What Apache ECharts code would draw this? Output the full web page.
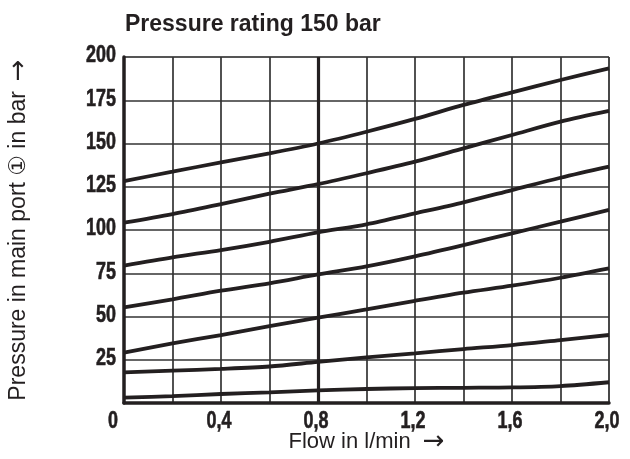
<!DOCTYPE html>
<html>
<head>
<meta charset="utf-8">
<script src="https://cdn.jsdelivr.net/npm/echarts@6/dist/echarts.min.js"></script>
<style>html,body{margin:0;padding:0;background:#fff}#c{width:630px;height:459px}</style>
</head>
<body>
<div id="c"></div>
<script>
const flow = [0, 0.2, 0.4, 0.6, 0.8, 1.0, 1.2, 1.4, 1.6, 1.8, 2.0];
const curve1 = [128.3, 133.7, 139.1, 144.3, 150, 156.8, 164.2, 172.3, 179.6, 186.7, 193.4];
const curve2 = [104.2, 109.2, 115, 121, 126.5, 132.8, 139.5, 147.2, 154.9, 162.6, 168.8];
const curve3 = [79.4, 84.2, 88.4, 93.2, 98.6, 103.3, 109.6, 116, 123.1, 130.2, 136.6];
const curve4 = [55.3, 59.9, 64.9, 69.2, 74.3, 79, 84.8, 91.3, 98.1, 104.8, 111.6];
const curve5 = [29.1, 34.5, 39.3, 44.5, 49.3, 54.1, 59.1, 63.8, 67.8, 72.4, 77.8];
const curve6 = [17.7, 18.7, 19.7, 21.1, 23.8, 26.4, 28.7, 31.2, 33.5, 36.4, 39.3];
const curve7 = [3.1, 4, 5.2, 6.2, 7.3, 8.1, 8.6, 8.8, 9.0, 9.8, 12];
const refFlow = [0.8];
const xTickValues = [0, 0.4, 0.8, 1.2, 1.6, 2.0];
const xTickLabels = ['0', '0,4', '0,8', '1,2', '1,6', '2,0'];
const yTickValues = [25, 50, 75, 100, 125, 150, 175, 200];
const yTickLabels = ['25', '50', '75', '100', '125', '150', '175', '200'];
const titleText = 'Pressure rating 150 bar';
const xNameText = 'Flow in l/min';
const yNameText = 'Pressure in main port \u2460 in bar';
const arrow = '\u2192';

const curves = [curve1, curve2, curve3, curve4, curve5, curve6, curve7];
const ink = '#231f20';
const textFont = '"Liberation Sans", Arial, "DejaVu Sans", sans-serif';
const tickFont = 'bold 23px "Liberation Sans", Arial, sans-serif';
const tickScaleX = 0.78;

const series = curves.map((c, i) => ({
  type: 'line',
  data: flow.map((f, j) => [f, c[j]]),
  smooth: 0.3,
  showSymbol: false,
  silent: true,
  lineStyle: { color: ink, width: 3.8 },
  markLine: i === 0 ? {
    silent: true, symbol: 'none', label: { show: false },
    lineStyle: { color: ink, width: 3.2, type: 'solid' },
    data: refFlow.map(v => ({ xAxis: v }))
  } : undefined,
  z: 5
}));

const xRich = {
  t: { fontFamily: textFont, fontSize: 22, color: ink },
  a: { fontFamily: '"DejaVu Sans", sans-serif', fontSize: 26, color: ink, padding: [0, 0, 0, 12] }
};
const yRich = {
  t: { fontFamily: textFont, fontSize: 23, color: ink },
  a: { fontFamily: '"DejaVu Sans", sans-serif', fontSize: 26, color: ink, padding: [0, 0, 0, 10] }
};

const chart = echarts.init(document.getElementById('c'), null, { renderer: 'canvas' });
chart.setOption({
  animation: false,
  backgroundColor: '#fff',
  title: {
    text: titleText, left: 120, top: 8,
    textStyle: { fontFamily: textFont, fontSize: 23, fontWeight: 'bold', color: ink }
  },
  grid: {
    left: 124, right: 21, top: 57, bottom: 56, containLabel: false, outerBoundsMode: 'none',
    show: true, borderColor: '#777', borderWidth: 1
  },
  xAxis: {
    type: 'value', min: 0, max: 2, interval: 0.2,
    name: '{t|' + xNameText + '}{a|' + arrow + '}', nameLocation: 'middle', nameGap: 26,
    nameTextStyle: { rich: xRich },
    axisLine: { show: true, lineStyle: { color: ink, width: 3.5 } },
    axisTick: { show: false },
    splitLine: { show: true, lineStyle: { color: '#333', width: 1.7 } },
    axisLabel: { show: false }
  },
  yAxis: {
    type: 'value', min: 0, max: 200, interval: 25,
    name: '{t|' + yNameText + '}{a|' + arrow + '}', nameLocation: 'middle', nameGap: 92, nameRotate: 90,
    nameTextStyle: { rich: yRich },
    axisLine: { show: true, lineStyle: { color: ink, width: 3.5 } },
    axisTick: { show: false },
    splitLine: { show: true, lineStyle: { color: '#333', width: 1.7 } },
    axisLabel: { show: false }
  },
  series: series
});

const graphics = [];
const tickStyle = (text, align) => ({
  text: text, font: tickFont, fill: ink, stroke: ink, lineWidth: 0.6,
  align: align, verticalAlign: 'middle'
});
xTickValues.forEach((v, i) => {
  const p = chart.convertToPixel({ gridIndex: 0 }, [v, 0]);
  const isOrigin = v === 0;
  graphics.push({
    type: 'text', x: isOrigin ? p[0] - 6 : p[0] - 2, y: p[1] + 19, scaleX: tickScaleX, silent: true,
    style: tickStyle(xTickLabels[i], isOrigin ? 'right' : 'center')
  });
});
yTickValues.forEach((v, i) => {
  const p = chart.convertToPixel({ gridIndex: 0 }, [0, v]);
  graphics.push({
    type: 'text', x: p[0] - 8, y: p[1] - 1, scaleX: tickScaleX, silent: true,
    style: tickStyle(yTickLabels[i], 'right')
  });
});
chart.setOption({ graphic: graphics });
</script>
</body>
</html>
